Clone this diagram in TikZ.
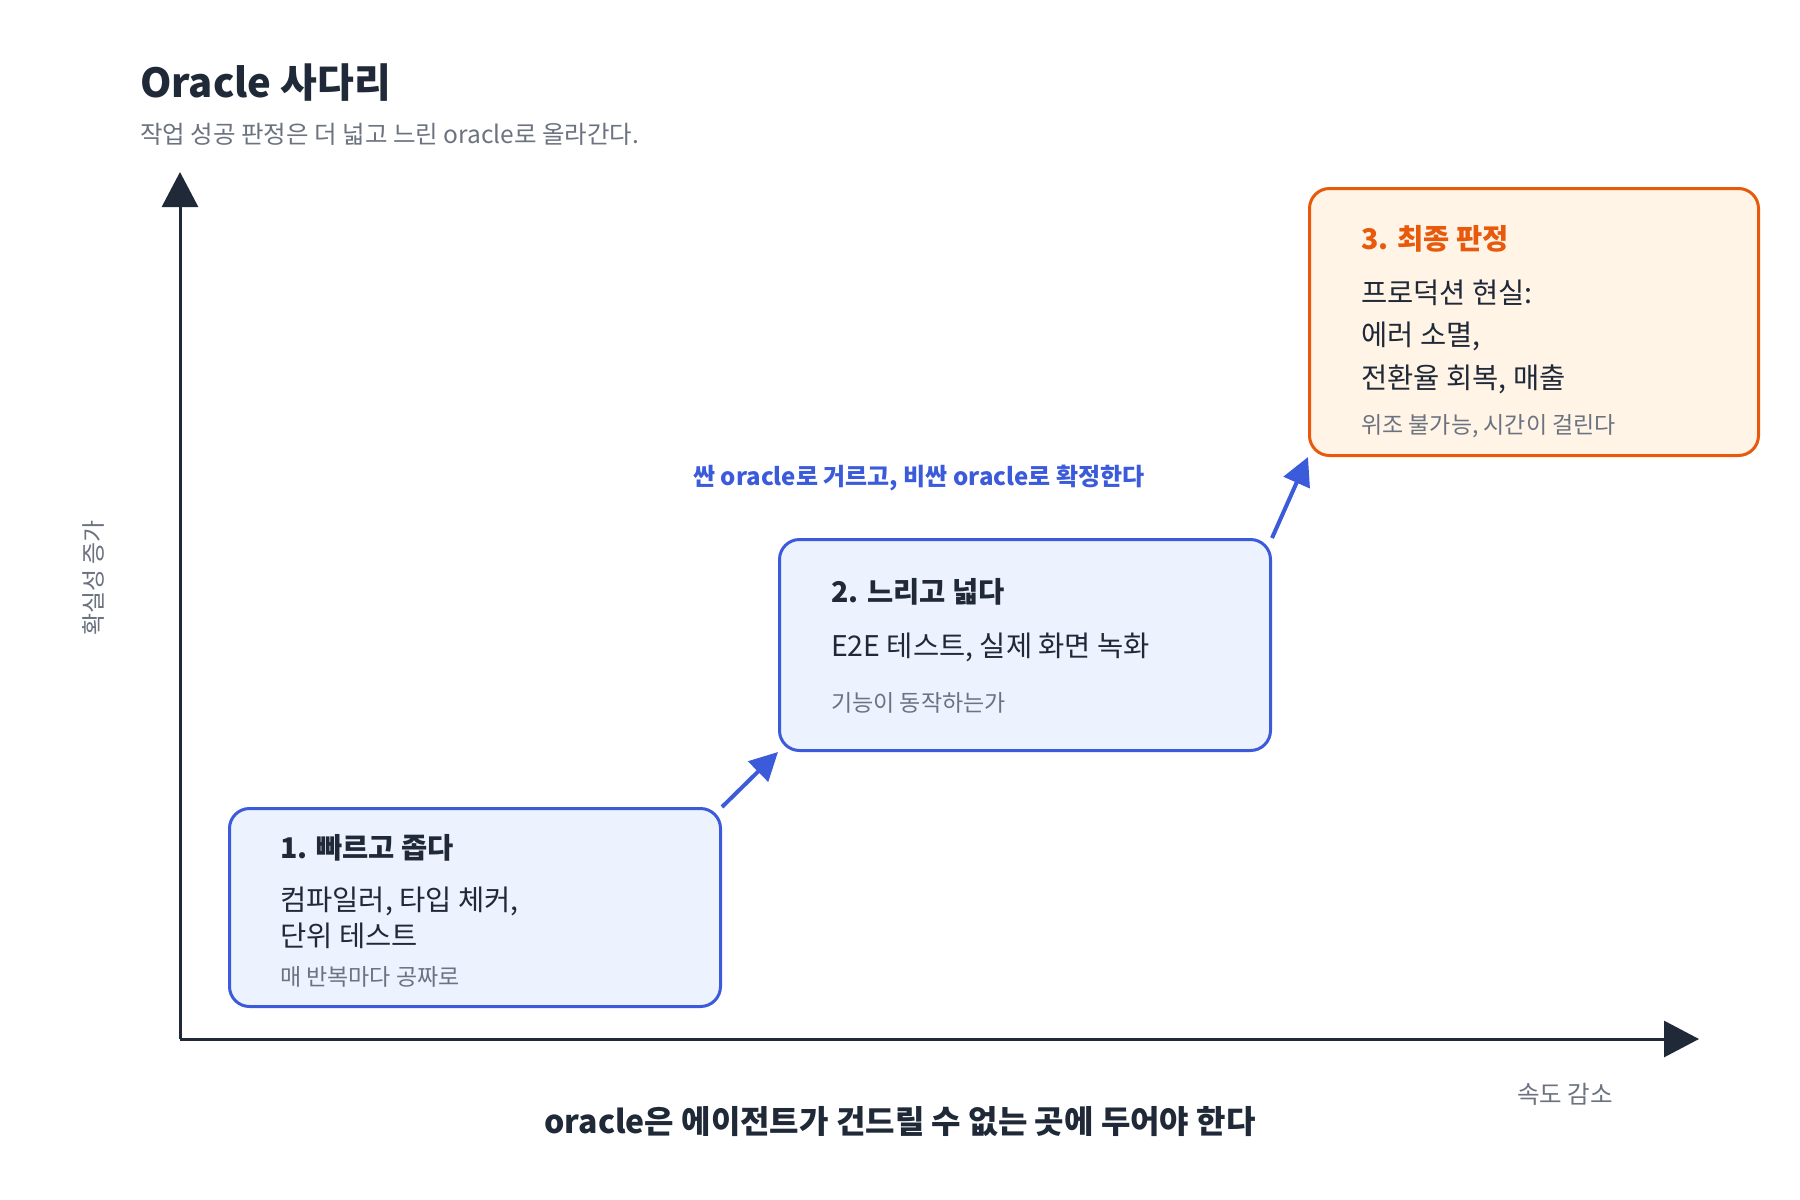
\documentclass[tikz,border=0pt]{standalone}
\usepackage{fontspec}
\setmainfont{Noto Sans CJK KR}
\usetikzlibrary{arrows.meta}
\definecolor{ink}{HTML}{1F2937}
\definecolor{muted}{HTML}{6B7280}
\definecolor{lblue}{HTML}{3B5BDB}
\definecolor{lbluefill}{HTML}{EDF2FF}
\definecolor{lorange}{HTML}{E8590C}
\definecolor{lorangefill}{HTML}{FFF4E6}

\begin{document}
\begin{tikzpicture}[
  x=1pt,y=-1pt,
  ttl/.style={anchor=base west, inner sep=0pt, text=ink, font=\fontsize{28.5}{34}\selectfont\bfseries},
  body/.style={anchor=base west, inner sep=0pt, text=ink, font=\fontsize{28.5}{34}\selectfont},
  note/.style={anchor=base west, inner sep=0pt, text=muted, font=\fontsize{23}{27}\selectfont},
  rung/.style={draw=lblue, fill=lbluefill, line width=3pt, rounded corners=20pt},
  final/.style={draw=lorange, fill=lorangefill, line width=3pt, rounded corners=20pt},
  axis/.style={draw=ink, line width=3pt, -{Triangle[length=35pt,width=36pt]}},
  arr/.style={draw=lblue, line width=4pt, -{Triangle[length=28pt,width=28pt]}}
]
\useasboundingbox (0,0) rectangle (1800,1200);
\fill[white] (0,0) rectangle (1800,1200);
\node[anchor=base west, inner sep=0pt, text=ink, font=\fontsize{40}{48}\selectfont\bfseries] (title) at (140,97) {Oracle 사다리};
\node[anchor=base west, inner sep=0pt, text=muted, font=\fontsize{24.5}{29}\selectfont] (subtitle) at (140,143) {작업 성공 판정은 더 넓고 느린 oracle로 올라간다.};
\coordinate (origin) at (180,1039);
\coordinate (ytop) at (180,172);
\coordinate (xend) at (1699,1039);
\draw[axis] (origin) -- (ytop);
\draw[axis] (origin) -- (xend);
\node[rotate=90, text=muted, font=\fontsize{24}{29}\selectfont] (ylab) at (93,578) {확실성 증가};
\node[text=muted, font=\fontsize{24.5}{29}\selectfont] (xlab) at (1565,1094) {속도 감소};
\node[rung, minimum width=491pt, minimum height=198pt] (fast) at (475,907.5) {};
\node[ttl] (fasttitle) at (280,858) {1. 빠르고 좁다};
\node[body] (fastbody) at (280,910) {컴파일러, 타입 체커,};
\node[body] (fastbody2) at (280,946) {단위 테스트};
\node[note] (fastnote) at (280,985) {매 반복마다 공짜로};
\node[rung, minimum width=491pt, minimum height=211pt] (wide) at (1025,645) {};
\node[ttl] (widetitle) at (831,602) {2. 느리고 넓다};
\node[body] (widebody) at (831,656) {E2E 테스트, 실제 화면 녹화};
\node[note] (widenote) at (831,711) {기능이 동작하는가};
\node[final, minimum width=449pt, minimum height=267pt] (prod) at (1534,322) {};
\node[ttl, text=lorange] (prodtitle) at (1361,249) {3. 최종 판정};
\node[body] (prodbody) at (1361,303) {프로덕션 현실:};
\node[body] (prodbody2) at (1361,345) {에러 소멸,};
\node[body] (prodbody3) at (1361,388) {전환율 회복, 매출};
\node[note] (prodnote) at (1361,433) {위조 불가능, 시간이 걸린다};
\draw[arr] (fast.north east) -- (wide.south west);
\draw[arr] (wide.north east) -- (prod.south west);
\node[text=lblue, font=\fontsize{24}{29}\selectfont\bfseries] (hint) at (919,478) {싼 oracle로 거르고, 비싼 oracle로 확정한다};
\node[text=ink, font=\fontsize{32}{38}\selectfont\bfseries] (motto) at (900,1122) {oracle은 에이전트가 건드릴 수 없는 곳에 두어야 한다};
\end{tikzpicture}
\end{document}
